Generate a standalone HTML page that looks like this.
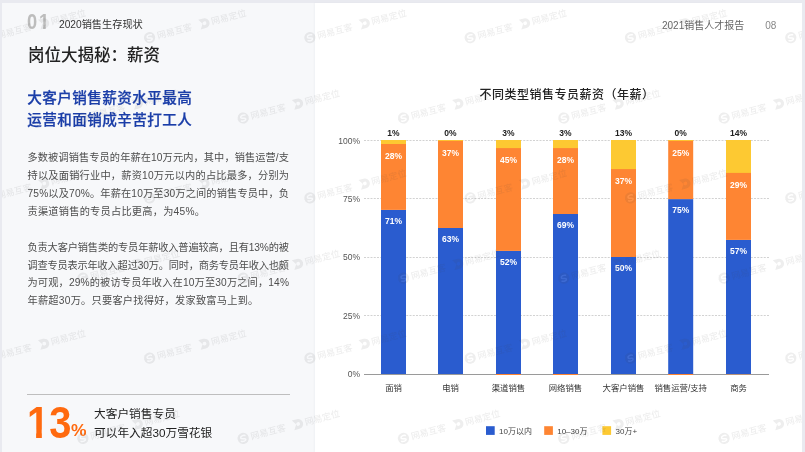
<!DOCTYPE html>
<html lang="zh-CN">
<head>
<meta charset="utf-8">
<title>2020销售生存现状 - 岗位大揭秘：薪资</title>
<style>
*{margin:0;padding:0;box-sizing:border-box;}
html,body{width:805px;height:452px;overflow:hidden;background:#e9eaf0;}
body{position:relative;font-family:"Liberation Sans","Noto Sans CJK SC",sans-serif;color:#333;}
.abs{position:absolute;white-space:nowrap;}
#wrap{position:absolute;left:0;top:0;width:805px;height:452px;will-change:transform;}
#left{position:absolute;left:2px;top:3px;width:313px;height:449px;background:#f7f8fa;}
#right{position:absolute;left:315px;top:3px;width:487px;height:449px;background:#fff;box-shadow:-1px 0 2px rgba(40,50,80,0.035);}
#num01{left:26.9px;top:8.7px;font-size:21.5px;font-weight:bold;color:#bdbdbd;transform-origin:0 0;transform:scaleX(0.85);line-height:26px;}
#sec{left:59px;top:18px;font-size:10.2px;color:#333;line-height:14px;}
#title{left:28px;top:42.5px;font-size:16.5px;font-weight:500;color:#222;line-height:24px;}
#blue{left:27.3px;top:88.4px;font-size:14.6px;letter-spacing:0.4px;font-weight:500;color:#1b3ea8;-webkit-text-stroke:0.25px #1b3ea8;line-height:21.4px;}
.para{position:absolute;left:27.5px;font-size:10.2px;line-height:17.8px;color:#4d4d4d;white-space:nowrap;}
#hr{left:27px;top:394px;width:263px;height:1px;background:#bebebe;}
#big13{left:27px;top:399px;font-size:44px;font-weight:bold;color:#ff6a0f;line-height:48px;transform-origin:0 0;transform:scaleX(0.907);}
#pct{left:71px;top:421.1px;font-size:16.8px;font-weight:bold;color:#ff6a0f;line-height:20px;transform-origin:0 0;transform:scaleX(1.04);}
#callout{left:94px;top:405.2px;font-size:11.7px;color:#222;line-height:18.4px;}
.one{display:inline-block;line-height:1em;vertical-align:baseline;clip-path:polygon(0 0,100% 0,100% 0.65em,0.372em 0.65em,0.372em 100%,0.228em 100%,0.228em 0.65em,0 0.65em);}
#hdr{left:662px;top:18.6px;font-size:10px;color:#666;line-height:14px;}
#pg{left:765.3px;top:18.6px;font-size:10px;color:#888;line-height:14px;}
</style>
</head>
<body>
<div id="wrap">
<div id="left"></div>
<div id="right"></div>

<div class="abs" id="num01"><span style="letter-spacing:2.1px">0</span><span class="one">1</span></div>
<div class="abs" id="sec">2020销售生存现状</div>
<div class="abs" id="title">岗位大揭秘：薪资</div>
<div class="abs" id="blue">大客户销售薪资水平最高<br>运营和面销成辛苦打工人</div>

<div class="para" style="top:149.4px;">
<div style="letter-spacing:0.109px">多数被调销售专员的年薪在10万元内，其中，销售运营/支</div>
<div style="letter-spacing:0.226px">持以及面销行业中，薪资10万元以内的占比最多，分别为</div>
<div style="letter-spacing:0.160px">75%以及70%。年薪在10万至30万之间的销售专员中，负</div>
<div style="letter-spacing:0.250px">责渠道销售的专员占比更高，为45%。</div>
</div>
<div class="para" style="top:238.8px;">
<div style="letter-spacing:-0.130px">负责大客户销售类的专员年薪收入普遍较高，且有13%的被</div>
<div style="letter-spacing:-0.174px">调查专员表示年收入超过30万。同时，商务专员年收入也颇</div>
<div style="letter-spacing:0.160px">为可观，29%的被访专员年收入在10万至30万之间，14%</div>
<div style="letter-spacing:0.250px">年薪超30万。只要客户找得好，发家致富马上到。</div>
</div>

<div class="abs" id="hr"></div>
<div class="abs" id="big13"><span class="one">1</span>3</div>
<div class="abs" id="pct">%</div>
<div class="abs" id="callout">大客户销售专员<br>可以年入超30万雪花银</div>

<div class="abs" id="hdr">2021销售人才报告</div>
<div class="abs" id="pg">08</div>

<svg class="abs" style="left:0;top:0" width="805" height="452" viewBox="0 0 805 452" font-family="Liberation Sans, Noto Sans CJK SC, sans-serif">
  <text x="566.9" y="98.9" font-size="12" letter-spacing="0.5" font-weight="500" fill="#222" text-anchor="middle">不同类型销售专员薪资（年薪）</text>
  <!-- gridlines -->
  <g stroke="#d2d2d2" stroke-width="1" stroke-dasharray="2 1.25">
    <line x1="364" y1="140.5" x2="769" y2="140.5"/>
    <line x1="364" y1="198.5" x2="769" y2="198.5"/>
    <line x1="364" y1="257.5" x2="769" y2="257.5"/>
    <line x1="364" y1="315.5" x2="769" y2="315.5"/>
  </g>
  <g font-size="8.5" fill="#555" text-anchor="end">
    <text x="360" y="143.6">100%</text>
    <text x="360" y="201.9">75%</text>
    <text x="360" y="260.4">50%</text>
    <text x="360" y="318.8">25%</text>
    <text x="360" y="377.1">0%</text>
  </g>
  <g id="bars">
  <rect x="381" y="209.9" width="25" height="164.10" fill="#2a5ccf"/>
  <rect x="381" y="140.0" width="25" height="69.90" fill="#fe8533"/>
  <rect x="381" y="140.0" width="25" height="4.00" fill="#fdc932"/>
  <text x="393.5" y="224.10" font-size="8.5" font-weight="bold" fill="#fff" text-anchor="middle">71%</text>
  <text x="393.5" y="158.60" font-size="8.5" font-weight="bold" fill="#fff" text-anchor="middle">28%</text>
  <text x="393.5" y="135.8" font-size="8.5" font-weight="bold" fill="#222" text-anchor="middle">1%</text>
  <text x="393.5" y="391.4" font-size="8.4" fill="#333" text-anchor="middle">面销</text>
  <rect x="438" y="228.0" width="25" height="146.00" fill="#2a5ccf"/>
  <rect x="438" y="140.0" width="25" height="88.00" fill="#fe8533"/>
  <rect x="438" y="140.0" width="25" height="0.90" fill="#fdc932"/>
  <text x="450.5" y="242.20" font-size="8.5" font-weight="bold" fill="#fff" text-anchor="middle">63%</text>
  <text x="450.5" y="155.50" font-size="8.5" font-weight="bold" fill="#fff" text-anchor="middle">37%</text>
  <text x="450.5" y="135.8" font-size="8.5" font-weight="bold" fill="#222" text-anchor="middle">0%</text>
  <text x="450.5" y="391.4" font-size="8.4" fill="#333" text-anchor="middle">电销</text>
  <rect x="496" y="250.9" width="25" height="123.10" fill="#2a5ccf"/>
  <rect x="496" y="140.0" width="25" height="110.90" fill="#fe8533"/>
  <rect x="496" y="140.0" width="25" height="8.10" fill="#fdc932"/>
  <text x="508.5" y="265.10" font-size="8.5" font-weight="bold" fill="#fff" text-anchor="middle">52%</text>
  <text x="508.5" y="162.70" font-size="8.5" font-weight="bold" fill="#fff" text-anchor="middle">45%</text>
  <text x="508.5" y="135.8" font-size="8.5" font-weight="bold" fill="#222" text-anchor="middle">3%</text>
  <text x="508.5" y="391.4" font-size="8.4" fill="#333" text-anchor="middle">渠道销售</text>
  <rect x="553" y="214.0" width="25" height="160.00" fill="#2a5ccf"/>
  <rect x="553" y="140.0" width="25" height="74.00" fill="#fe8533"/>
  <rect x="553" y="140.0" width="25" height="8.10" fill="#fdc932"/>
  <text x="565.5" y="228.20" font-size="8.5" font-weight="bold" fill="#fff" text-anchor="middle">69%</text>
  <text x="565.5" y="162.70" font-size="8.5" font-weight="bold" fill="#fff" text-anchor="middle">28%</text>
  <text x="565.5" y="135.8" font-size="8.5" font-weight="bold" fill="#222" text-anchor="middle">3%</text>
  <text x="565.5" y="391.4" font-size="8.4" fill="#333" text-anchor="middle">网络销售</text>
  <rect x="611" y="257.0" width="25" height="117.00" fill="#2a5ccf"/>
  <rect x="611" y="140.0" width="25" height="117.00" fill="#fe8533"/>
  <rect x="611" y="140.0" width="25" height="29.10" fill="#fdc932"/>
  <text x="623.5" y="271.20" font-size="8.5" font-weight="bold" fill="#fff" text-anchor="middle">50%</text>
  <text x="623.5" y="183.70" font-size="8.5" font-weight="bold" fill="#fff" text-anchor="middle">37%</text>
  <text x="623.5" y="135.8" font-size="8.5" font-weight="bold" fill="#222" text-anchor="middle">13%</text>
  <text x="623.5" y="391.4" font-size="8.4" fill="#333" text-anchor="middle">大客户销售</text>
  <rect x="668.2" y="199.1" width="25" height="174.90" fill="#2a5ccf"/>
  <rect x="668.2" y="140.0" width="25" height="59.10" fill="#fe8533"/>
  <rect x="668.2" y="140.0" width="25" height="0.90" fill="#fdc932"/>
  <text x="680.7" y="213.30" font-size="8.5" font-weight="bold" fill="#fff" text-anchor="middle">75%</text>
  <text x="680.7" y="155.50" font-size="8.5" font-weight="bold" fill="#fff" text-anchor="middle">25%</text>
  <text x="680.7" y="135.8" font-size="8.5" font-weight="bold" fill="#222" text-anchor="middle">0%</text>
  <text x="680.7" y="391.4" font-size="8.4" fill="#333" text-anchor="middle">销售运营/支持</text>
  <rect x="726" y="239.9" width="25" height="134.10" fill="#2a5ccf"/>
  <rect x="726" y="140.0" width="25" height="99.90" fill="#fe8533"/>
  <rect x="726" y="140.0" width="25" height="32.90" fill="#fdc932"/>
  <text x="738.5" y="254.10" font-size="8.5" font-weight="bold" fill="#fff" text-anchor="middle">57%</text>
  <text x="738.5" y="187.50" font-size="8.5" font-weight="bold" fill="#fff" text-anchor="middle">29%</text>
  <text x="738.5" y="135.8" font-size="8.5" font-weight="bold" fill="#222" text-anchor="middle">14%</text>
  <text x="738.5" y="391.4" font-size="8.4" fill="#333" text-anchor="middle">商务</text>
  <line x1="364" y1="374.5" x2="769" y2="374.5" stroke="#9a9a9a" stroke-width="1"/>
  <rect x="496" y="374" width="25" height="1" fill="#fe8533"/>
  <rect x="553" y="374" width="25" height="1" fill="#fe8533"/>
  <rect x="668.2" y="374" width="25" height="1" fill="#fe8533"/>
  <rect x="726" y="374" width="25" height="1" fill="#fe8533" opacity="0.3"/>
  </g>
  <g font-size="8" fill="#444">
    <rect x="486" y="426.2" width="8.7" height="8.7" fill="#2a5ccf"/>
    <text x="499" y="434.3">10万以内</text>
    <rect x="544.2" y="426.2" width="8.7" height="8.7" fill="#fe8533"/>
    <text x="557.2" y="434.3">10–30万</text>
    <rect x="602.4" y="426.2" width="8.7" height="8.7" fill="#fdc932"/>
    <text x="615.5" y="434.3">30万+</text>
  </g>
</svg>
</div>
<svg class="abs" id="wm" style="left:2px;top:3px" width="800" height="449" viewBox="0 0 800 449" font-family="Liberation Sans, Noto Sans CJK SC, sans-serif" font-size="9" font-weight="500" fill="#444" opacity="0.09">
<g transform="translate(-12.7,34.7) rotate(-14.7)"><circle r="5.6"/><path d="M2.4,-2.4 C1.1,-3.2 -2.3,-2.9 -2.3,-1 C-2.3,0.8 2.3,-0.1 2.3,1.5 C2.3,3.2 -1.2,3.3 -2.5,2.4" fill="none" stroke="#fff" stroke-width="1.5" stroke-linecap="round"/><text x="7.8" y="3.3">网易互客</text><path transform="translate(56.2,0)" fill-rule="evenodd" d="M-4.6,-5 H0.6 A5,5 0 0 1 0.6,5 H-4.6 L-1.4,0 Z M0.6,-1.9 A1.9,1.9 0 1 0 0.6,1.9 A1.9,1.9 0 1 0 0.6,-1.9 Z"/><text x="63.7" y="3.3">网易定位</text></g>
<g transform="translate(147.6,34.7) rotate(-14.7)"><circle r="5.6"/><path d="M2.4,-2.4 C1.1,-3.2 -2.3,-2.9 -2.3,-1 C-2.3,0.8 2.3,-0.1 2.3,1.5 C2.3,3.2 -1.2,3.3 -2.5,2.4" fill="none" stroke="#fff" stroke-width="1.5" stroke-linecap="round"/><text x="7.8" y="3.3">网易互客</text><path transform="translate(56.2,0)" fill-rule="evenodd" d="M-4.6,-5 H0.6 A5,5 0 0 1 0.6,5 H-4.6 L-1.4,0 Z M0.6,-1.9 A1.9,1.9 0 1 0 0.6,1.9 A1.9,1.9 0 1 0 0.6,-1.9 Z"/><text x="63.7" y="3.3">网易定位</text></g>
<g transform="translate(307.9,34.7) rotate(-14.7)"><circle r="5.6"/><path d="M2.4,-2.4 C1.1,-3.2 -2.3,-2.9 -2.3,-1 C-2.3,0.8 2.3,-0.1 2.3,1.5 C2.3,3.2 -1.2,3.3 -2.5,2.4" fill="none" stroke="#fff" stroke-width="1.5" stroke-linecap="round"/><text x="7.8" y="3.3">网易互客</text><path transform="translate(56.2,0)" fill-rule="evenodd" d="M-4.6,-5 H0.6 A5,5 0 0 1 0.6,5 H-4.6 L-1.4,0 Z M0.6,-1.9 A1.9,1.9 0 1 0 0.6,1.9 A1.9,1.9 0 1 0 0.6,-1.9 Z"/><text x="63.7" y="3.3">网易定位</text></g>
<g transform="translate(468.2,34.7) rotate(-14.7)"><circle r="5.6"/><path d="M2.4,-2.4 C1.1,-3.2 -2.3,-2.9 -2.3,-1 C-2.3,0.8 2.3,-0.1 2.3,1.5 C2.3,3.2 -1.2,3.3 -2.5,2.4" fill="none" stroke="#fff" stroke-width="1.5" stroke-linecap="round"/><text x="7.8" y="3.3">网易互客</text><path transform="translate(56.2,0)" fill-rule="evenodd" d="M-4.6,-5 H0.6 A5,5 0 0 1 0.6,5 H-4.6 L-1.4,0 Z M0.6,-1.9 A1.9,1.9 0 1 0 0.6,1.9 A1.9,1.9 0 1 0 0.6,-1.9 Z"/><text x="63.7" y="3.3">网易定位</text></g>
<g transform="translate(628.5,34.7) rotate(-14.7)"><circle r="5.6"/><path d="M2.4,-2.4 C1.1,-3.2 -2.3,-2.9 -2.3,-1 C-2.3,0.8 2.3,-0.1 2.3,1.5 C2.3,3.2 -1.2,3.3 -2.5,2.4" fill="none" stroke="#fff" stroke-width="1.5" stroke-linecap="round"/><text x="7.8" y="3.3">网易互客</text><path transform="translate(56.2,0)" fill-rule="evenodd" d="M-4.6,-5 H0.6 A5,5 0 0 1 0.6,5 H-4.6 L-1.4,0 Z M0.6,-1.9 A1.9,1.9 0 1 0 0.6,1.9 A1.9,1.9 0 1 0 0.6,-1.9 Z"/><text x="63.7" y="3.3">网易定位</text></g>
<g transform="translate(788.8,34.7) rotate(-14.7)"><circle r="5.6"/><path d="M2.4,-2.4 C1.1,-3.2 -2.3,-2.9 -2.3,-1 C-2.3,0.8 2.3,-0.1 2.3,1.5 C2.3,3.2 -1.2,3.3 -2.5,2.4" fill="none" stroke="#fff" stroke-width="1.5" stroke-linecap="round"/><text x="7.8" y="3.3">网易互客</text><path transform="translate(56.2,0)" fill-rule="evenodd" d="M-4.6,-5 H0.6 A5,5 0 0 1 0.6,5 H-4.6 L-1.4,0 Z M0.6,-1.9 A1.9,1.9 0 1 0 0.6,1.9 A1.9,1.9 0 1 0 0.6,-1.9 Z"/><text x="63.7" y="3.3">网易定位</text></g>
<g transform="translate(-12.7,194.9) rotate(-14.7)"><circle r="5.6"/><path d="M2.4,-2.4 C1.1,-3.2 -2.3,-2.9 -2.3,-1 C-2.3,0.8 2.3,-0.1 2.3,1.5 C2.3,3.2 -1.2,3.3 -2.5,2.4" fill="none" stroke="#fff" stroke-width="1.5" stroke-linecap="round"/><text x="7.8" y="3.3">网易互客</text><path transform="translate(56.2,0)" fill-rule="evenodd" d="M-4.6,-5 H0.6 A5,5 0 0 1 0.6,5 H-4.6 L-1.4,0 Z M0.6,-1.9 A1.9,1.9 0 1 0 0.6,1.9 A1.9,1.9 0 1 0 0.6,-1.9 Z"/><text x="63.7" y="3.3">网易定位</text></g>
<g transform="translate(147.6,194.9) rotate(-14.7)"><circle r="5.6"/><path d="M2.4,-2.4 C1.1,-3.2 -2.3,-2.9 -2.3,-1 C-2.3,0.8 2.3,-0.1 2.3,1.5 C2.3,3.2 -1.2,3.3 -2.5,2.4" fill="none" stroke="#fff" stroke-width="1.5" stroke-linecap="round"/><text x="7.8" y="3.3">网易互客</text><path transform="translate(56.2,0)" fill-rule="evenodd" d="M-4.6,-5 H0.6 A5,5 0 0 1 0.6,5 H-4.6 L-1.4,0 Z M0.6,-1.9 A1.9,1.9 0 1 0 0.6,1.9 A1.9,1.9 0 1 0 0.6,-1.9 Z"/><text x="63.7" y="3.3">网易定位</text></g>
<g transform="translate(307.9,194.9) rotate(-14.7)"><circle r="5.6"/><path d="M2.4,-2.4 C1.1,-3.2 -2.3,-2.9 -2.3,-1 C-2.3,0.8 2.3,-0.1 2.3,1.5 C2.3,3.2 -1.2,3.3 -2.5,2.4" fill="none" stroke="#fff" stroke-width="1.5" stroke-linecap="round"/><text x="7.8" y="3.3">网易互客</text><path transform="translate(56.2,0)" fill-rule="evenodd" d="M-4.6,-5 H0.6 A5,5 0 0 1 0.6,5 H-4.6 L-1.4,0 Z M0.6,-1.9 A1.9,1.9 0 1 0 0.6,1.9 A1.9,1.9 0 1 0 0.6,-1.9 Z"/><text x="63.7" y="3.3">网易定位</text></g>
<g transform="translate(468.2,194.9) rotate(-14.7)"><circle r="5.6"/><path d="M2.4,-2.4 C1.1,-3.2 -2.3,-2.9 -2.3,-1 C-2.3,0.8 2.3,-0.1 2.3,1.5 C2.3,3.2 -1.2,3.3 -2.5,2.4" fill="none" stroke="#fff" stroke-width="1.5" stroke-linecap="round"/><text x="7.8" y="3.3">网易互客</text><path transform="translate(56.2,0)" fill-rule="evenodd" d="M-4.6,-5 H0.6 A5,5 0 0 1 0.6,5 H-4.6 L-1.4,0 Z M0.6,-1.9 A1.9,1.9 0 1 0 0.6,1.9 A1.9,1.9 0 1 0 0.6,-1.9 Z"/><text x="63.7" y="3.3">网易定位</text></g>
<g transform="translate(628.5,194.9) rotate(-14.7)"><circle r="5.6"/><path d="M2.4,-2.4 C1.1,-3.2 -2.3,-2.9 -2.3,-1 C-2.3,0.8 2.3,-0.1 2.3,1.5 C2.3,3.2 -1.2,3.3 -2.5,2.4" fill="none" stroke="#fff" stroke-width="1.5" stroke-linecap="round"/><text x="7.8" y="3.3">网易互客</text><path transform="translate(56.2,0)" fill-rule="evenodd" d="M-4.6,-5 H0.6 A5,5 0 0 1 0.6,5 H-4.6 L-1.4,0 Z M0.6,-1.9 A1.9,1.9 0 1 0 0.6,1.9 A1.9,1.9 0 1 0 0.6,-1.9 Z"/><text x="63.7" y="3.3">网易定位</text></g>
<g transform="translate(788.8,194.9) rotate(-14.7)"><circle r="5.6"/><path d="M2.4,-2.4 C1.1,-3.2 -2.3,-2.9 -2.3,-1 C-2.3,0.8 2.3,-0.1 2.3,1.5 C2.3,3.2 -1.2,3.3 -2.5,2.4" fill="none" stroke="#fff" stroke-width="1.5" stroke-linecap="round"/><text x="7.8" y="3.3">网易互客</text><path transform="translate(56.2,0)" fill-rule="evenodd" d="M-4.6,-5 H0.6 A5,5 0 0 1 0.6,5 H-4.6 L-1.4,0 Z M0.6,-1.9 A1.9,1.9 0 1 0 0.6,1.9 A1.9,1.9 0 1 0 0.6,-1.9 Z"/><text x="63.7" y="3.3">网易定位</text></g>
<g transform="translate(-12.7,355.1) rotate(-14.7)"><circle r="5.6"/><path d="M2.4,-2.4 C1.1,-3.2 -2.3,-2.9 -2.3,-1 C-2.3,0.8 2.3,-0.1 2.3,1.5 C2.3,3.2 -1.2,3.3 -2.5,2.4" fill="none" stroke="#fff" stroke-width="1.5" stroke-linecap="round"/><text x="7.8" y="3.3">网易互客</text><path transform="translate(56.2,0)" fill-rule="evenodd" d="M-4.6,-5 H0.6 A5,5 0 0 1 0.6,5 H-4.6 L-1.4,0 Z M0.6,-1.9 A1.9,1.9 0 1 0 0.6,1.9 A1.9,1.9 0 1 0 0.6,-1.9 Z"/><text x="63.7" y="3.3">网易定位</text></g>
<g transform="translate(147.6,355.1) rotate(-14.7)"><circle r="5.6"/><path d="M2.4,-2.4 C1.1,-3.2 -2.3,-2.9 -2.3,-1 C-2.3,0.8 2.3,-0.1 2.3,1.5 C2.3,3.2 -1.2,3.3 -2.5,2.4" fill="none" stroke="#fff" stroke-width="1.5" stroke-linecap="round"/><text x="7.8" y="3.3">网易互客</text><path transform="translate(56.2,0)" fill-rule="evenodd" d="M-4.6,-5 H0.6 A5,5 0 0 1 0.6,5 H-4.6 L-1.4,0 Z M0.6,-1.9 A1.9,1.9 0 1 0 0.6,1.9 A1.9,1.9 0 1 0 0.6,-1.9 Z"/><text x="63.7" y="3.3">网易定位</text></g>
<g transform="translate(307.9,355.1) rotate(-14.7)"><circle r="5.6"/><path d="M2.4,-2.4 C1.1,-3.2 -2.3,-2.9 -2.3,-1 C-2.3,0.8 2.3,-0.1 2.3,1.5 C2.3,3.2 -1.2,3.3 -2.5,2.4" fill="none" stroke="#fff" stroke-width="1.5" stroke-linecap="round"/><text x="7.8" y="3.3">网易互客</text><path transform="translate(56.2,0)" fill-rule="evenodd" d="M-4.6,-5 H0.6 A5,5 0 0 1 0.6,5 H-4.6 L-1.4,0 Z M0.6,-1.9 A1.9,1.9 0 1 0 0.6,1.9 A1.9,1.9 0 1 0 0.6,-1.9 Z"/><text x="63.7" y="3.3">网易定位</text></g>
<g transform="translate(468.2,355.1) rotate(-14.7)"><circle r="5.6"/><path d="M2.4,-2.4 C1.1,-3.2 -2.3,-2.9 -2.3,-1 C-2.3,0.8 2.3,-0.1 2.3,1.5 C2.3,3.2 -1.2,3.3 -2.5,2.4" fill="none" stroke="#fff" stroke-width="1.5" stroke-linecap="round"/><text x="7.8" y="3.3">网易互客</text><path transform="translate(56.2,0)" fill-rule="evenodd" d="M-4.6,-5 H0.6 A5,5 0 0 1 0.6,5 H-4.6 L-1.4,0 Z M0.6,-1.9 A1.9,1.9 0 1 0 0.6,1.9 A1.9,1.9 0 1 0 0.6,-1.9 Z"/><text x="63.7" y="3.3">网易定位</text></g>
<g transform="translate(628.5,355.1) rotate(-14.7)"><circle r="5.6"/><path d="M2.4,-2.4 C1.1,-3.2 -2.3,-2.9 -2.3,-1 C-2.3,0.8 2.3,-0.1 2.3,1.5 C2.3,3.2 -1.2,3.3 -2.5,2.4" fill="none" stroke="#fff" stroke-width="1.5" stroke-linecap="round"/><text x="7.8" y="3.3">网易互客</text><path transform="translate(56.2,0)" fill-rule="evenodd" d="M-4.6,-5 H0.6 A5,5 0 0 1 0.6,5 H-4.6 L-1.4,0 Z M0.6,-1.9 A1.9,1.9 0 1 0 0.6,1.9 A1.9,1.9 0 1 0 0.6,-1.9 Z"/><text x="63.7" y="3.3">网易定位</text></g>
<g transform="translate(788.8,355.1) rotate(-14.7)"><circle r="5.6"/><path d="M2.4,-2.4 C1.1,-3.2 -2.3,-2.9 -2.3,-1 C-2.3,0.8 2.3,-0.1 2.3,1.5 C2.3,3.2 -1.2,3.3 -2.5,2.4" fill="none" stroke="#fff" stroke-width="1.5" stroke-linecap="round"/><text x="7.8" y="3.3">网易互客</text><path transform="translate(56.2,0)" fill-rule="evenodd" d="M-4.6,-5 H0.6 A5,5 0 0 1 0.6,5 H-4.6 L-1.4,0 Z M0.6,-1.9 A1.9,1.9 0 1 0 0.6,1.9 A1.9,1.9 0 1 0 0.6,-1.9 Z"/><text x="63.7" y="3.3">网易定位</text></g>
<g transform="translate(80.9,115.0) rotate(-14.7)"><circle r="5.6"/><path d="M2.4,-2.4 C1.1,-3.2 -2.3,-2.9 -2.3,-1 C-2.3,0.8 2.3,-0.1 2.3,1.5 C2.3,3.2 -1.2,3.3 -2.5,2.4" fill="none" stroke="#fff" stroke-width="1.5" stroke-linecap="round"/><text x="7.8" y="3.3">网易互客</text><path transform="translate(56.2,0)" fill-rule="evenodd" d="M-4.6,-5 H0.6 A5,5 0 0 1 0.6,5 H-4.6 L-1.4,0 Z M0.6,-1.9 A1.9,1.9 0 1 0 0.6,1.9 A1.9,1.9 0 1 0 0.6,-1.9 Z"/><text x="63.7" y="3.3">网易定位</text></g>
<g transform="translate(241.2,115.0) rotate(-14.7)"><circle r="5.6"/><path d="M2.4,-2.4 C1.1,-3.2 -2.3,-2.9 -2.3,-1 C-2.3,0.8 2.3,-0.1 2.3,1.5 C2.3,3.2 -1.2,3.3 -2.5,2.4" fill="none" stroke="#fff" stroke-width="1.5" stroke-linecap="round"/><text x="7.8" y="3.3">网易互客</text><path transform="translate(56.2,0)" fill-rule="evenodd" d="M-4.6,-5 H0.6 A5,5 0 0 1 0.6,5 H-4.6 L-1.4,0 Z M0.6,-1.9 A1.9,1.9 0 1 0 0.6,1.9 A1.9,1.9 0 1 0 0.6,-1.9 Z"/><text x="63.7" y="3.3">网易定位</text></g>
<g transform="translate(401.5,115.0) rotate(-14.7)"><circle r="5.6"/><path d="M2.4,-2.4 C1.1,-3.2 -2.3,-2.9 -2.3,-1 C-2.3,0.8 2.3,-0.1 2.3,1.5 C2.3,3.2 -1.2,3.3 -2.5,2.4" fill="none" stroke="#fff" stroke-width="1.5" stroke-linecap="round"/><text x="7.8" y="3.3">网易互客</text><path transform="translate(56.2,0)" fill-rule="evenodd" d="M-4.6,-5 H0.6 A5,5 0 0 1 0.6,5 H-4.6 L-1.4,0 Z M0.6,-1.9 A1.9,1.9 0 1 0 0.6,1.9 A1.9,1.9 0 1 0 0.6,-1.9 Z"/><text x="63.7" y="3.3">网易定位</text></g>
<g transform="translate(561.8,115.0) rotate(-14.7)"><circle r="5.6"/><path d="M2.4,-2.4 C1.1,-3.2 -2.3,-2.9 -2.3,-1 C-2.3,0.8 2.3,-0.1 2.3,1.5 C2.3,3.2 -1.2,3.3 -2.5,2.4" fill="none" stroke="#fff" stroke-width="1.5" stroke-linecap="round"/><text x="7.8" y="3.3">网易互客</text><path transform="translate(56.2,0)" fill-rule="evenodd" d="M-4.6,-5 H0.6 A5,5 0 0 1 0.6,5 H-4.6 L-1.4,0 Z M0.6,-1.9 A1.9,1.9 0 1 0 0.6,1.9 A1.9,1.9 0 1 0 0.6,-1.9 Z"/><text x="63.7" y="3.3">网易定位</text></g>
<g transform="translate(722.1,115.0) rotate(-14.7)"><circle r="5.6"/><path d="M2.4,-2.4 C1.1,-3.2 -2.3,-2.9 -2.3,-1 C-2.3,0.8 2.3,-0.1 2.3,1.5 C2.3,3.2 -1.2,3.3 -2.5,2.4" fill="none" stroke="#fff" stroke-width="1.5" stroke-linecap="round"/><text x="7.8" y="3.3">网易互客</text><path transform="translate(56.2,0)" fill-rule="evenodd" d="M-4.6,-5 H0.6 A5,5 0 0 1 0.6,5 H-4.6 L-1.4,0 Z M0.6,-1.9 A1.9,1.9 0 1 0 0.6,1.9 A1.9,1.9 0 1 0 0.6,-1.9 Z"/><text x="63.7" y="3.3">网易定位</text></g>
<g transform="translate(80.9,275.2) rotate(-14.7)"><circle r="5.6"/><path d="M2.4,-2.4 C1.1,-3.2 -2.3,-2.9 -2.3,-1 C-2.3,0.8 2.3,-0.1 2.3,1.5 C2.3,3.2 -1.2,3.3 -2.5,2.4" fill="none" stroke="#fff" stroke-width="1.5" stroke-linecap="round"/><text x="7.8" y="3.3">网易互客</text><path transform="translate(56.2,0)" fill-rule="evenodd" d="M-4.6,-5 H0.6 A5,5 0 0 1 0.6,5 H-4.6 L-1.4,0 Z M0.6,-1.9 A1.9,1.9 0 1 0 0.6,1.9 A1.9,1.9 0 1 0 0.6,-1.9 Z"/><text x="63.7" y="3.3">网易定位</text></g>
<g transform="translate(241.2,275.2) rotate(-14.7)"><circle r="5.6"/><path d="M2.4,-2.4 C1.1,-3.2 -2.3,-2.9 -2.3,-1 C-2.3,0.8 2.3,-0.1 2.3,1.5 C2.3,3.2 -1.2,3.3 -2.5,2.4" fill="none" stroke="#fff" stroke-width="1.5" stroke-linecap="round"/><text x="7.8" y="3.3">网易互客</text><path transform="translate(56.2,0)" fill-rule="evenodd" d="M-4.6,-5 H0.6 A5,5 0 0 1 0.6,5 H-4.6 L-1.4,0 Z M0.6,-1.9 A1.9,1.9 0 1 0 0.6,1.9 A1.9,1.9 0 1 0 0.6,-1.9 Z"/><text x="63.7" y="3.3">网易定位</text></g>
<g transform="translate(401.5,275.2) rotate(-14.7)"><circle r="5.6"/><path d="M2.4,-2.4 C1.1,-3.2 -2.3,-2.9 -2.3,-1 C-2.3,0.8 2.3,-0.1 2.3,1.5 C2.3,3.2 -1.2,3.3 -2.5,2.4" fill="none" stroke="#fff" stroke-width="1.5" stroke-linecap="round"/><text x="7.8" y="3.3">网易互客</text><path transform="translate(56.2,0)" fill-rule="evenodd" d="M-4.6,-5 H0.6 A5,5 0 0 1 0.6,5 H-4.6 L-1.4,0 Z M0.6,-1.9 A1.9,1.9 0 1 0 0.6,1.9 A1.9,1.9 0 1 0 0.6,-1.9 Z"/><text x="63.7" y="3.3">网易定位</text></g>
<g transform="translate(561.8,275.2) rotate(-14.7)"><circle r="5.6"/><path d="M2.4,-2.4 C1.1,-3.2 -2.3,-2.9 -2.3,-1 C-2.3,0.8 2.3,-0.1 2.3,1.5 C2.3,3.2 -1.2,3.3 -2.5,2.4" fill="none" stroke="#fff" stroke-width="1.5" stroke-linecap="round"/><text x="7.8" y="3.3">网易互客</text><path transform="translate(56.2,0)" fill-rule="evenodd" d="M-4.6,-5 H0.6 A5,5 0 0 1 0.6,5 H-4.6 L-1.4,0 Z M0.6,-1.9 A1.9,1.9 0 1 0 0.6,1.9 A1.9,1.9 0 1 0 0.6,-1.9 Z"/><text x="63.7" y="3.3">网易定位</text></g>
<g transform="translate(722.1,275.2) rotate(-14.7)"><circle r="5.6"/><path d="M2.4,-2.4 C1.1,-3.2 -2.3,-2.9 -2.3,-1 C-2.3,0.8 2.3,-0.1 2.3,1.5 C2.3,3.2 -1.2,3.3 -2.5,2.4" fill="none" stroke="#fff" stroke-width="1.5" stroke-linecap="round"/><text x="7.8" y="3.3">网易互客</text><path transform="translate(56.2,0)" fill-rule="evenodd" d="M-4.6,-5 H0.6 A5,5 0 0 1 0.6,5 H-4.6 L-1.4,0 Z M0.6,-1.9 A1.9,1.9 0 1 0 0.6,1.9 A1.9,1.9 0 1 0 0.6,-1.9 Z"/><text x="63.7" y="3.3">网易定位</text></g>
<g transform="translate(80.9,435.4) rotate(-14.7)"><circle r="5.6"/><path d="M2.4,-2.4 C1.1,-3.2 -2.3,-2.9 -2.3,-1 C-2.3,0.8 2.3,-0.1 2.3,1.5 C2.3,3.2 -1.2,3.3 -2.5,2.4" fill="none" stroke="#fff" stroke-width="1.5" stroke-linecap="round"/><text x="7.8" y="3.3">网易互客</text><path transform="translate(56.2,0)" fill-rule="evenodd" d="M-4.6,-5 H0.6 A5,5 0 0 1 0.6,5 H-4.6 L-1.4,0 Z M0.6,-1.9 A1.9,1.9 0 1 0 0.6,1.9 A1.9,1.9 0 1 0 0.6,-1.9 Z"/><text x="63.7" y="3.3">网易定位</text></g>
<g transform="translate(241.2,435.4) rotate(-14.7)"><circle r="5.6"/><path d="M2.4,-2.4 C1.1,-3.2 -2.3,-2.9 -2.3,-1 C-2.3,0.8 2.3,-0.1 2.3,1.5 C2.3,3.2 -1.2,3.3 -2.5,2.4" fill="none" stroke="#fff" stroke-width="1.5" stroke-linecap="round"/><text x="7.8" y="3.3">网易互客</text><path transform="translate(56.2,0)" fill-rule="evenodd" d="M-4.6,-5 H0.6 A5,5 0 0 1 0.6,5 H-4.6 L-1.4,0 Z M0.6,-1.9 A1.9,1.9 0 1 0 0.6,1.9 A1.9,1.9 0 1 0 0.6,-1.9 Z"/><text x="63.7" y="3.3">网易定位</text></g>
<g transform="translate(401.5,435.4) rotate(-14.7)"><circle r="5.6"/><path d="M2.4,-2.4 C1.1,-3.2 -2.3,-2.9 -2.3,-1 C-2.3,0.8 2.3,-0.1 2.3,1.5 C2.3,3.2 -1.2,3.3 -2.5,2.4" fill="none" stroke="#fff" stroke-width="1.5" stroke-linecap="round"/><text x="7.8" y="3.3">网易互客</text><path transform="translate(56.2,0)" fill-rule="evenodd" d="M-4.6,-5 H0.6 A5,5 0 0 1 0.6,5 H-4.6 L-1.4,0 Z M0.6,-1.9 A1.9,1.9 0 1 0 0.6,1.9 A1.9,1.9 0 1 0 0.6,-1.9 Z"/><text x="63.7" y="3.3">网易定位</text></g>
<g transform="translate(561.8,435.4) rotate(-14.7)"><circle r="5.6"/><path d="M2.4,-2.4 C1.1,-3.2 -2.3,-2.9 -2.3,-1 C-2.3,0.8 2.3,-0.1 2.3,1.5 C2.3,3.2 -1.2,3.3 -2.5,2.4" fill="none" stroke="#fff" stroke-width="1.5" stroke-linecap="round"/><text x="7.8" y="3.3">网易互客</text><path transform="translate(56.2,0)" fill-rule="evenodd" d="M-4.6,-5 H0.6 A5,5 0 0 1 0.6,5 H-4.6 L-1.4,0 Z M0.6,-1.9 A1.9,1.9 0 1 0 0.6,1.9 A1.9,1.9 0 1 0 0.6,-1.9 Z"/><text x="63.7" y="3.3">网易定位</text></g>
<g transform="translate(722.1,435.4) rotate(-14.7)"><circle r="5.6"/><path d="M2.4,-2.4 C1.1,-3.2 -2.3,-2.9 -2.3,-1 C-2.3,0.8 2.3,-0.1 2.3,1.5 C2.3,3.2 -1.2,3.3 -2.5,2.4" fill="none" stroke="#fff" stroke-width="1.5" stroke-linecap="round"/><text x="7.8" y="3.3">网易互客</text><path transform="translate(56.2,0)" fill-rule="evenodd" d="M-4.6,-5 H0.6 A5,5 0 0 1 0.6,5 H-4.6 L-1.4,0 Z M0.6,-1.9 A1.9,1.9 0 1 0 0.6,1.9 A1.9,1.9 0 1 0 0.6,-1.9 Z"/><text x="63.7" y="3.3">网易定位</text></g>
</svg>
</body>
</html>
